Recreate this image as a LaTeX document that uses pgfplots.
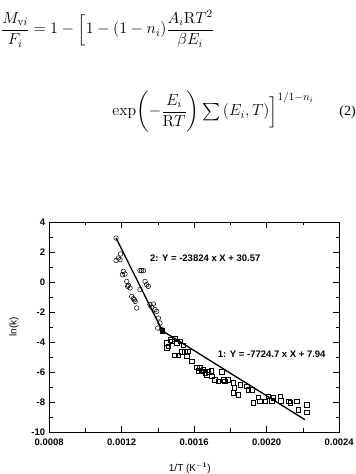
\documentclass[border=0pt]{standalone}
\usepackage{fix-cm}
\usepackage{amsmath}
\usepackage[no-math]{fontspec}
\setmainfont{Liberation Sans}
\newfontfamily\timesfont{Liberation Serif}
\usepackage{pgfplots}
\pgfplotsset{compat=1.18}
\begin{document}
\begin{tikzpicture}[x=1pt,y=1pt]
\useasboundingbox (0,0) rectangle (356,474);
% equation
\node[anchor=west,inner sep=0pt,font=\fontsize{16}{19}\selectfont] at (1,445)
 {$\dfrac{M_{\mathrm{v}i}}{F_i}=1-\Bigl[1-(1-n_i)\dfrac{A_i\mathrm{R}T^2}{\beta E_i}$};
\node[anchor=east,inner sep=0pt,font=\fontsize{16}{19}\selectfont] at (314,362)
 {$\exp\!\left(-\dfrac{E_i}{\mathrm{R}T}\right)\sum\,(E_i,T)\Bigr]^{1/1-n_i}$};
\node[anchor=east,inner sep=0pt,font=\fontsize{14}{16}\timesfont] at (356,362) {(2)};
\begin{axis}[
  at={(49.2pt,42pt)}, anchor=south west,
  scale only axis, width=290pt, height=210pt,
  xmin=0.0008, xmax=0.0024, ymin=-10, ymax=4,
  xtick={0.0008,0.0012,0.0016,0.0020,0.0024},
  xticklabels={0.0008,0.0012,0.0016,0.0020,0.0024},
  ytick={-10,-8,-6,-4,-2,0,2,4},
  yticklabels={-10,-8,-6,-4,-2,0,2,4},
  scaled x ticks=false,
  minor x tick num=1, minor y tick num=1,
  tick align=inside,
  major tick length=6pt, minor tick length=3.5pt,
  axis line style={line width=0.9pt},
  every tick/.style={black,line width=0.8pt},
  tick label style={font=\fontsize{9.5}{11}\selectfont\bfseries},
  /pgf/number format/assume math mode=true,
  xticklabel style={yshift=-3.5pt},
  yticklabel style={xshift=-0.5pt},
  xlabel={1/T (K$^{\mathbf{-1}}$)},
  ylabel={ln(k)},
  label style={font=\fontsize{12}{14}\selectfont\bfseries},
  every axis x label/.style={at={(axis description cs:0.485,-0.173)},anchor=center},
  every axis y label/.style={at={(axis description cs:-0.121,0.5)},rotate=90,anchor=center},
  clip=false,
]
% circles (series 2)
\addplot[only marks, mark=o, mark size=2.3pt, mark options={line width=0.5pt, black}] coordinates {
(0.001169,2.93) (0.001169,1.44) (0.001182,1.60) (0.001194,1.87) (0.001191,1.49)
(0.001209,0.71) (0.001218,0.53) (0.001204,0.49) (0.001228,0.04) (0.001237,-0.22)
(0.001246,-0.40) (0.001233,-0.29) (0.001255,-0.96) (0.001264,-1.11) (0.001274,-1.29)
(0.001283,-1.73) (0.001270,-1.18) (0.001301,0.76) (0.001320,0.76) (0.001310,0.76)
(0.001329,0.04) (0.001338,-0.18) (0.001347,-0.29) (0.001301,-0.51) (0.001356,-1.51)
(0.001366,-1.69) (0.001375,-1.47) (0.001384,-1.84) (0.001393,-1.96) (0.001402,-2.40)
(0.001411,-2.73) (0.001399,-3.07) (0.001421,-3.18)
};
% squares (series 1)
\addplot[only marks, mark=square, mark size=2.3pt, mark options={line width=0.5pt, black}] coordinates {
(0.001448,-4.07) (0.001457,-4.29) (0.001448,-4.40) (0.001467,-3.84) (0.001476,-3.96)
(0.001494,-3.78) (0.001503,-4.07) (0.001522,-3.96) (0.001540,-4.22) (0.001494,-4.89)
(0.001513,-4.89) (0.001531,-4.67) (0.001549,-4.67) (0.001559,-4.96) (0.001564,-4.62)
(0.001586,-5.29) (0.001614,-5.69) (0.001632,-5.73) (0.001641,-5.96) (0.001660,-6.07)
(0.001669,-6.18) (0.001693,-5.91) (0.001697,-6.29) (0.001715,-6.51) (0.001733,-6.62)
(0.001752,-6.00) (0.001761,-6.51) (0.001770,-6.62) (0.001788,-6.51) (0.001816,-6.73)
(0.001822,-7.07) (0.001816,-7.40) (0.001844,-7.51) (0.001853,-6.84) (0.001890,-6.96)
(0.001899,-7.18) (0.001917,-7.18) (0.001926,-8.07) (0.001954,-7.69) (0.001963,-7.96)
(0.001991,-7.96) (0.002009,-7.62) (0.002028,-7.91) (0.002037,-7.73) (0.002074,-7.62)
(0.002079,-7.91) (0.002120,-7.96) (0.002129,-8.07) (0.002166,-7.96) (0.002175,-8.51)
(0.002221,-8.18) (0.002221,-8.69) (0.001623,-5.91) (0.001650,-5.84) (0.001678,-6.00)
};
% junction point
\addplot[only marks, mark=square*, mark size=2.3pt, mark options={black}] coordinates {(0.001424,-3.25)};
% regression lines
\addplot[black, line width=1.3pt] coordinates {(0.001169,2.93) (0.001424,-3.25)};
\addplot[black, line width=1.3pt] coordinates {(0.001424,-3.25) (0.002211,-9.18)};
\node[anchor=west,inner sep=0pt,font=\fontsize{9.5}{11}\selectfont\bfseries] at (axis cs:0.001356,1.56) {2: Y = -23824 x X + 30.57};
\node[anchor=west,inner sep=0pt,font=\fontsize{9.5}{11}\selectfont\bfseries] at (axis cs:0.00173,-4.84) {1: Y = -7724.7 x X + 7.94};
\end{axis}
\end{tikzpicture}
\end{document}
